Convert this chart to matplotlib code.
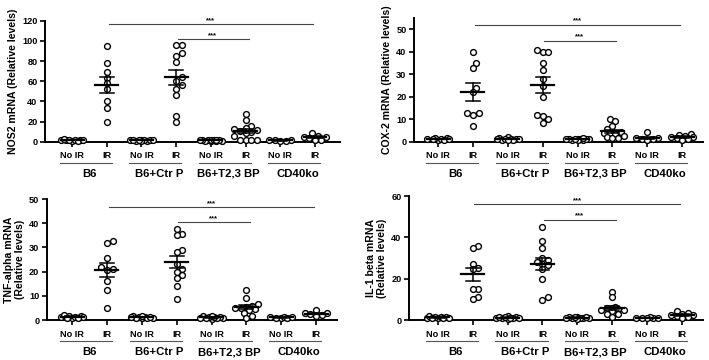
import numpy as np
import matplotlib
matplotlib.use("Agg")
import matplotlib.pyplot as plt
from matplotlib.transforms import blended_transform_factory, offset_copy

plt.rcParams["font.family"] = ["Liberation Sans", "DejaVu Sans"]
plt.rcParams["font.weight"] = "bold"

categories = ["No IR", "IR", "No IR", "IR", "No IR", "IR", "No IR", "IR"]
groups = ["B6", "B6+Ctr P", "B6+T2,3 BP", "CD40ko"]

# NOS2 mRNA (relative levels), one list per category
nos2 = [
    [0.8, 1.2, 1.5, 1.9, 2.2, 1.6, 1.0, 1.3, 1.8],
    [95, 78, 69, 63, 58, 52, 40, 33, 20],
    [0.9, 1.3, 1.6, 2.0, 1.1, 1.4, 1.8, 0.7, 1.5, 1.2],
    [96, 96, 88, 85, 79, 64, 60, 56, 52, 46, 25, 20],
    [0.8, 1.1, 1.4, 1.7, 1.0, 1.3, 1.6, 0.9, 1.2, 1.5, 1.9],
    [27, 22, 16, 14, 13, 12, 11, 10, 9, 6, 2, 2, 2, 2],
    [1.5, 2.0, 1.0, 1.2, 0.8],
    [9, 6, 5, 5, 4, 2, 2],
]
# COX-2 mRNA
cox2 = [
    [0.8, 1.2, 1.5, 1.7, 1.0, 1.3, 0.9, 1.1],
    [40, 35, 33, 24, 22, 13, 13, 12, 7],
    [2.2, 1.6, 1.2, 0.9, 1.4, 1.0, 0.8, 1.1, 1.3, 0.7],
    [41, 40, 40, 35, 32, 28, 25, 20, 12, 11.5, 10, 8.5],
    [0.8, 1.0, 1.2, 1.4, 0.9, 1.1, 1.3, 0.7, 1.0, 1.2, 1.5],
    [10, 9, 7, 5.5, 4.5, 4.5, 4, 4, 3.5, 2.5, 2, 1.5, 1.5],
    [4.2, 1.8, 1.5, 1.2, 1.0, 0.8],
    [3.5, 3, 2.5, 2, 2, 1.5, 1, 0.8],
]
# TNF-alpha mRNA
tnf = [
    [0.8, 1.2, 1.6, 2.2, 1.0, 1.4, 1.8, 1.1, 0.9],
    [32.5, 32, 25.5, 22, 21, 20.5, 16, 12.5, 5],
    [0.7, 1.0, 1.3, 1.6, 0.9, 1.2, 1.8, 0.8, 1.1, 1.4],
    [37.5, 35.5, 35, 29, 28, 23, 21, 20, 18.5, 17.5, 14, 8.5],
    [0.6, 0.9, 1.2, 1.5, 0.8, 1.0, 1.3, 0.7, 1.1, 1.6],
    [12.5, 9, 6.5, 6, 5.5, 5, 5, 4.5, 4, 3, 1.5, 1],
    [0.8, 1.2, 1.0, 1.4, 0.9, 1.1],
    [4, 3, 3, 2.5, 2, 1.5],
]
# IL-1 beta mRNA
il1b = [
    [0.8, 1.2, 1.6, 1.9, 1.0, 1.4, 1.7, 0.9, 1.1],
    [36, 35, 27, 25, 24.5, 15, 15, 11, 10],
    [0.7, 1.1, 1.5, 1.9, 0.9, 1.3, 1.6, 0.8, 1.2, 1.0],
    [45, 38, 35, 30, 29, 28, 27, 26.5, 24.5, 20, 11, 9.5],
    [0.8, 1.0, 1.4, 1.7, 0.9, 1.2, 1.5, 0.7, 1.1, 1.3],
    [13.5, 11, 6.5, 6, 6, 5.5, 5, 5, 4.5, 3, 3, 1.5],
    [1.2, 0.9, 1.1, 1.3, 0.8, 1.0],
    [4.5, 3.5, 3, 2.5, 2.5, 2, 1.5, 1],
]

panels = [
    dict(data=nos2, ylabel="NOS2 mRNA (Relative levels)", ylim=120, yticks=np.arange(0, 121, 20),
         rect=[0.0635, 0.6064, 0.416, 0.336], xlim=(-0.78, 7.72), sig=(116.8, 102)),
    dict(data=cox2, ylabel="COX-2 mRNA (Relative levels)", ylim=55, yticks=np.arange(0, 51, 10),
         rect=[0.584, 0.6064, 0.4076, 0.343], xlim=(-0.69, 7.6), sig=(52.2, 45)),
    dict(data=tnf, ylabel="TNF-alpha mRNA\n(Relative levels)", ylim=50, yticks=np.arange(0, 51, 10),
         rect=[0.0663, 0.111, 0.409, 0.336], xlim=(-0.72, 7.6), sig=(46.6, 40.6)),
    dict(data=il1b, ylabel="IL-1 beta mRNA\n(Relative levels)", ylim=60, yticks=np.arange(0, 61, 20),
         rect=[0.577, 0.111, 0.4147, 0.3445], xlim=(-0.82, 7.6), sig=(55.9, 48.6)),
]


def swarm(vals, ypx, xpx, d=5.0, step=2.8, kmax=4):
    # compact beeswarm in pixel space, returns offsets in data units
    order = np.argsort(vals)
    placed = []
    offs = np.zeros(len(vals))
    cands = [0] + [s * k for k in range(1, kmax + 1) for s in (1, -1)]
    for i in order:
        y = vals[i] * ypx
        best, best_d = 0, -1
        for k in cands:
            x = k * step
            dmin = min([np.hypot(x - px, y - py) for px, py in placed] + [1e9])
            if dmin >= d:
                best = k
                break
            if dmin > best_d + 0.5:
                best, best_d = k, dmin
        placed.append((best * step, y))
        offs[i] = best * step / xpx
    return offs


fig = plt.figure(figsize=(7.09, 3.6), dpi=100)
W, H = 709, 360

for p in panels:
    ax = fig.add_axes(p["rect"])
    x0, x1 = p["xlim"]
    ax.set_xlim(x0, x1)
    ax.set_ylim(0, p["ylim"])
    ypx = p["rect"][3] * H / p["ylim"]
    xpx = p["rect"][2] * W / (x1 - x0)
    for i, vals in enumerate(p["data"]):
        vals = np.array(vals, dtype=float)
        xs = i + swarm(vals, ypx, xpx)
        ax.plot(xs, vals, "o", ms=4.2, mfc="white", mec="black", mew=1.0, clip_on=False, zorder=3)
        m = vals.mean()
        se = vals.std(ddof=1) / np.sqrt(len(vals))
        ax.plot([i - 0.33, i + 0.33], [m, m], color="black", lw=1.6, zorder=4)
        ax.plot([i - 0.2, i + 0.2], [m + se, m + se], color="black", lw=1.1, zorder=4)
        ax.plot([i - 0.2, i + 0.2], [m - se, m - se], color="black", lw=1.1, zorder=4)
        ax.plot([i, i], [m - se, m + se], color="black", lw=1.1, zorder=4)

    for s in ["top", "right"]:
        ax.spines[s].set_visible(False)
    for s in ["left", "bottom"]:
        ax.spines[s].set_linewidth(1.4)
    ax.set_yticks(p["yticks"])
    ax.set_xticks(range(len(categories)))
    ax.set_xticklabels(categories)
    ax.tick_params(axis="both", width=1.2, length=3.5, labelsize=6.6, pad=2)
    ax.tick_params(axis="x", pad=3.5)
    for lab in ax.get_xticklabels() + ax.get_yticklabels():
        lab.set_fontweight("bold")
    ax.set_ylabel(p["ylabel"], fontsize=7.6, fontweight="bold", labelpad=3, linespacing=1.1)

    # group underlines and labels
    bt = blended_transform_factory(ax.transData, ax.transAxes)
    ut = offset_copy(bt, fig=fig, y=-21, units="dots")
    lt = offset_copy(bt, fig=fig, y=-32, units="dots")
    for g, name in enumerate(groups):
        a, b = 2 * g, 2 * g + 1
        ax.plot([a - 0.35, b + 0.15], [0, 0], color="#555555", lw=0.8, transform=ut, clip_on=False)
        ax.text((a + b) / 2, 0, name, transform=lt, ha="center", va="center",
                fontsize=8.2, fontweight="bold", clip_on=False)

    # significance bars
    hi, lo = p["sig"]
    ax.plot([1.05, 6.95], [hi, hi], color="#444444", lw=0.8, clip_on=False)
    ax.text(4.0, hi, "***", ha="center", va="bottom", fontsize=5.5)
    ax.plot([3.05, 5.1], [lo, lo], color="#444444", lw=0.8, clip_on=False)
    ax.text(4.05, lo, "***", ha="center", va="bottom", fontsize=5.5)

fig.savefig("out.png", dpi=100)
